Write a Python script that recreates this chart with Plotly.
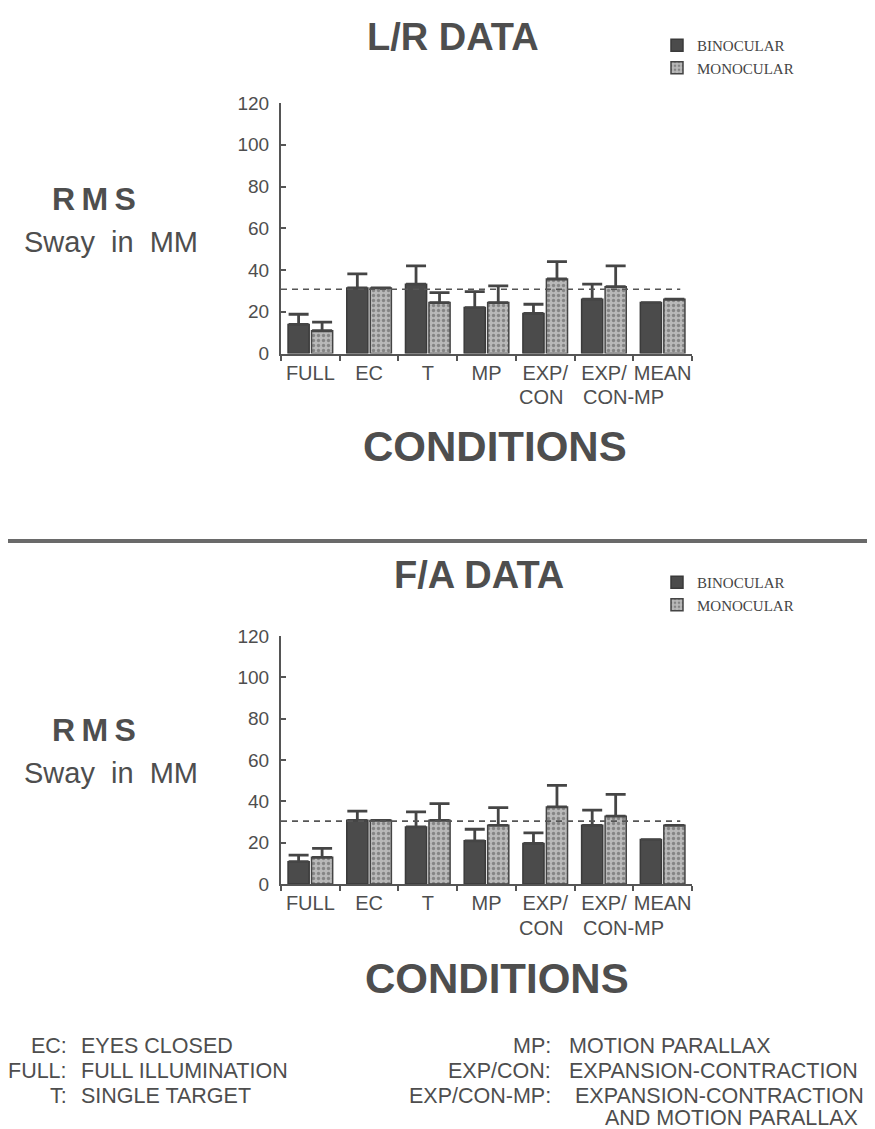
import plotly.graph_objects as go

# ---------------- data ----------------
CATEGORIES = ["FULL", "EC", "T", "MP", "EXP/CON", "EXP/CON-MP", "MEAN"]
TICK_LINE1 = ["FULL", "EC", "T", "MP", "EXP/", "EXP/", "MEAN"]
TICK_LINE2 = {"EXP/CON": "CON", "EXP/CON-MP": "CON-MP"}
SERIES_NAMES = ["BINOCULAR", "MONOCULAR"]
Y_TICKS = [0, 20, 40, 60, 80, 100, 120]

# L/R data (RMS sway in mm)
LR_BINO = [13.9, 31.4, 33.2, 22.0, 19.2, 26.0, 24.4]
LR_BINO_TOP = [18.8, 38.1, 42.0, 29.6, 23.6, 33.2, None]
LR_MONO = [10.9, 31.4, 24.4, 24.4, 35.7, 32.0, 26.0]
LR_MONO_TOP = [15.0, None, 29.2, 32.4, 44.0, 42.0, None]
LR_REF = 30.8

# F/A data (RMS sway in mm)
FA_BINO = [10.8, 30.8, 27.6, 20.9, 19.6, 28.4, 21.5]
FA_BINO_TOP = [14.0, 35.3, 34.9, 26.5, 24.7, 35.7, None]
FA_MONO = [12.9, 30.8, 30.8, 28.4, 37.3, 32.8, 28.4]
FA_MONO_TOP = [17.2, None, 38.9, 37.0, 47.7, 43.4, None]
FA_REF = 30.4

# ---------------- styles ----------------
W, H = 875, 1129
OFF = 8  # page offset of the figure (body margin)
TXT = "#4e4e4e"
AX = "#555555"
SANS = "Liberation Sans, Arial, sans-serif"
SERIF = "Liberation Serif, Times New Roman, serif"
BINO_FILL = "#4b4b4b"
MONO_BG = "#b9b9b9"
MONO_FG = "#858585"


def err(vals, tops):
    return [(t - v) if t is not None else 0 for v, t in zip(vals, tops)]


def px_x(p):
    return (p - OFF) / W


def px_y(p):
    return 1 - (p - OFF) / H


fig = go.Figure()

panels = [
    ("x", "y", "legend", LR_BINO, LR_BINO_TOP, LR_MONO, LR_MONO_TOP),
    ("x2", "y2", "legend2", FA_BINO, FA_BINO_TOP, FA_MONO, FA_MONO_TOP),
]
for xa, ya, lg, bv, bt, mv, mt in panels:
    fig.add_trace(go.Bar(
        x=CATEGORIES, y=bv, name=SERIES_NAMES[0], xaxis=xa, yaxis=ya, legend=lg,
        marker=dict(color=BINO_FILL, line=dict(color="#3a3a3a", width=1.5)),
        error_y=dict(type="data", array=err(bv, bt), arrayminus=[0] * len(bv),
                     symmetric=False, color="#454545", thickness=2.8, width=10),
    ))
    fig.add_trace(go.Bar(
        x=CATEGORIES, y=mv, name=SERIES_NAMES[1], xaxis=xa, yaxis=ya, legend=lg,
        marker=dict(color=MONO_BG, line=dict(color="#444444", width=1.5),
                    pattern=dict(shape=".", fgcolor=MONO_FG, bgcolor=MONO_BG,
                                 size=5, solidity=0.35, fillmode="replace")),
        error_y=dict(type="data", array=err(mv, mt), arrayminus=[0] * len(mv),
                     symmetric=False, color="#454545", thickness=2.8, width=10),
    ))

xdom = [px_x(281), px_x(692)]
top_dom = [px_y(353.5), px_y(103)]
bot_dom = [px_y(884), px_y(636)]

xaxis_common = dict(
    range=[-0.5, 6.5], tickson="boundaries", ticks="outside", ticklen=5,
    tickwidth=1.5, tickcolor=AX, showline=True, linecolor=AX, linewidth=2,
    showgrid=False, zeroline=False, tickangle=0, automargin=False,
    tickmode="array", tickvals=CATEGORIES, ticktext=TICK_LINE1,
    tickfont=dict(family=SANS, size=20, color=TXT), fixedrange=True,
)
yaxis_common = dict(
    range=[0, 120], tickvals=Y_TICKS, ticks="inside", ticklen=5, tickwidth=1.5,
    tickcolor=AX, showline=True, linecolor=AX, linewidth=2, showgrid=False,
    zeroline=False, ticklabelstandoff=6, automargin=False,
    tickfont=dict(family=SANS, size=19, color=TXT), fixedrange=True,
)

legend_common = dict(
    xanchor="left", yanchor="top", bgcolor="rgba(0,0,0,0)",
    font=dict(family=SERIF, size=15, color="#444444"), tracegroupgap=0,
    itemclick=False, itemdoubleclick=False,
)

fig.update_layout(
    width=W, height=H, margin=dict(l=0, r=0, t=0, b=0, autoexpand=False),
    paper_bgcolor="white", plot_bgcolor="white",
    barmode="group", bargap=0.2, bargroupgap=0.1,
    showlegend=True,
    xaxis=dict(domain=xdom, anchor="y", **xaxis_common),
    yaxis=dict(domain=top_dom, anchor="x", **yaxis_common),
    xaxis2=dict(domain=xdom, anchor="y2", **xaxis_common),
    yaxis2=dict(domain=bot_dom, anchor="x2", **yaxis_common),
    legend=dict(x=px_x(657), y=px_y(29), **legend_common),
    legend2=dict(x=px_x(657), y=px_y(566), **legend_common),
)

# dashed reference lines
for xr, yr, val in [("x", "y", LR_REF), ("x2", "y2", FA_REF)]:
    fig.add_shape(type="line", xref=xr, yref=yr, x0=-0.5, x1=6.3, y0=val, y1=val,
                  line=dict(color="#555555", width=1.6, dash="6px,5px"), layer="above")

# separator line
fig.add_shape(type="line", xref="paper", yref="paper", x0=px_x(8), x1=1,
              y0=px_y(541), y1=px_y(541), line=dict(color="#6a6a6a", width=4))


def ann(text, x, y, size, bold=False, xanchor="center", family=SANS, align="center"):
    fig.add_annotation(
        text=f"<b>{text}</b>" if bold else text, xref="paper", yref="paper",
        x=px_x(x), y=px_y(y), xanchor=xanchor, yanchor="middle", showarrow=False,
        align=align, font=dict(family=family, size=size, color=TXT),
    )


# second line of the two-line category labels, placed on the category axis
LINE2_SHIFT = {"EXP/CON": -0.08, "EXP/CON-MP": 0.34}
for xr, ypx in (("x", 397), ("x2", 928)):
    for cat, txt in TICK_LINE2.items():
        fig.add_annotation(
            text=txt, xref=xr, yref="paper", x=CATEGORIES.index(cat) + LINE2_SHIFT[cat],
            y=px_y(ypx), xanchor="center", yanchor="middle", showarrow=False,
            font=dict(family=SANS, size=20, color=TXT),
        )

# titles
ann("L/R DATA", 453, 37, 38, bold=True)
ann("F/A DATA", 479, 575, 38, bold=True)

# y labels
for off in (0, 531):
    ann("R\u2009M\u2009S", 94, 199 + off, 32, bold=True)
    ann("Sway\u00a0\u00a0in\u00a0\u00a0MM", 111, 242 + off, 29)

# x labels
ann("CONDITIONS", 495, 446, 42, bold=True)
ann("CONDITIONS", 497, 978, 42, bold=True)

# footnotes
FS = 21.5
FOOT_LEFT = [("EC:", "EYES CLOSED"), ("FULL:", "FULL ILLUMINATION"), ("T:", "SINGLE TARGET")]
for i, (ab, desc) in enumerate(FOOT_LEFT):
    yy = 1046 + 25 * i
    ann(ab, 69, yy, FS, xanchor="right")
    ann(desc, 79, yy, FS, xanchor="left")

FOOT_RIGHT = [("MP:", "MOTION PARALLAX", 567), ("EXP/CON:", "EXPANSION-CONTRACTION", 567),
              ("EXP/CON-MP:", "EXPANSION-CONTRACTION", 573)]
for i, (ab, desc, dx) in enumerate(FOOT_RIGHT):
    yy = 1046 + 25 * i
    ann(ab, 553, yy, FS, xanchor="right")
    ann(desc, dx, yy, FS, xanchor="left")
ann("AND MOTION PARALLAX", 603, 1118, FS, xanchor="left")

fig.write_html("out.html")
